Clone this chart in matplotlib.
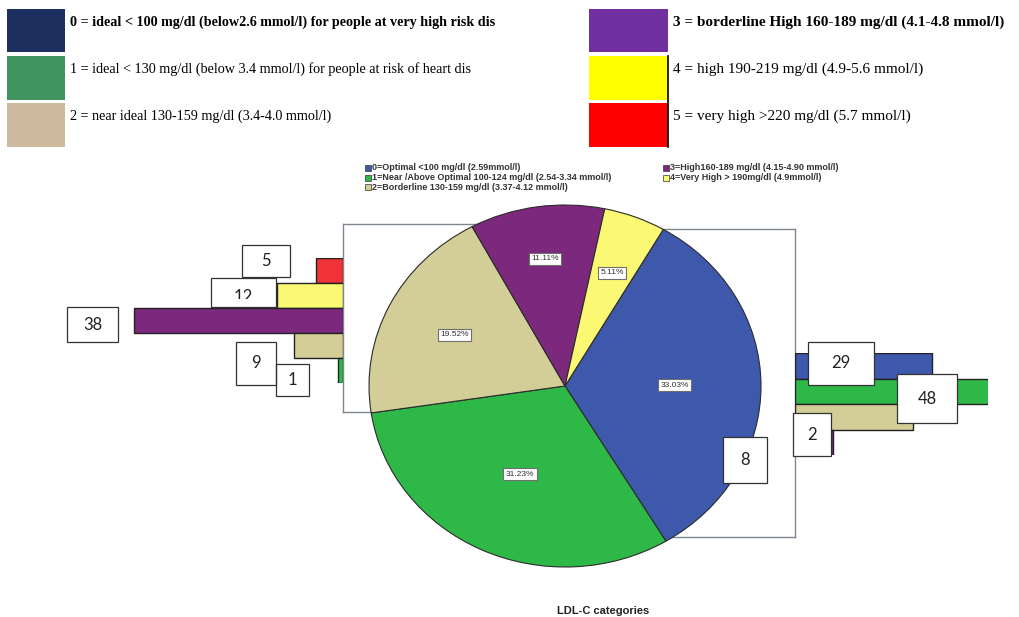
import numpy as np
import matplotlib
matplotlib.use("Agg")
import matplotlib.pyplot as plt
from matplotlib.patches import Rectangle

W, H = 1019, 617

# pie: share of each LDL-C category (%)
pie_labels = ["0=Optimal <100 mg/dl (2.59mmol/l)",
              "1=Near /Above Optimal 100-124 mg/dl (2.54-3.34 mmol/l)",
              "2=Borderline 130-159 mg/dl (3.37-4.12 mmol/l)",
              "3=High160-189 mg/dl (4.15-4.90 mmol/l)",
              "4=Very High > 190mg/dl (4.9mmol/l)"]
pie_pcts = [33.03, 31.23, 19.52, 11.11, 5.11]
pie_colors = ["#3E58AC", "#2EB848", "#D3CE97", "#7C287D", "#FBF873"]

# left bar group (counts)
left_vals = [5, 12, 38, 9, 1]
left_colors = ["#EF3338", "#FBF873", "#7C287D", "#D3CE97", "#2EB848"]

# right bar group (counts)
right_vals = [29, 48, 25, 8]
right_colors = ["#3E58AC", "#2EB848", "#D3CE97", "#7C287D"]

# callout boxes: text and pixel box (x0, y0, x1, y1)
callouts = [("5", 242, 245, 290, 277), ("12", 211, 278, 276, 307),
            ("38", 67, 307, 118, 342), ("9", 236, 342, 276, 385),
            ("1", 276, 364, 309, 396), ("29", 808, 342, 874, 385),
            ("48", 897, 374, 957, 423), ("2", 793, 413, 831, 456),
            ("8", 723, 437, 767, 483)]

# top key
key_colors = ["#1C2F5E", "#3F945F", "#CDBA9E", "#7030A0", "#FFFF00", "#FF0000"]
key_text = ["0 = ideal < 100 mg/dl (below2.6 mmol/l) for people at very high risk dis",
            "1 = ideal < 130 mg/dl (below 3.4 mmol/l) for people at risk of heart dis",
            "2 = near ideal 130-159 mg/dl (3.4-4.0 mmol/l)",
            "3 = borderline High 160-189 mg/dl (4.1-4.8 mmol/l)",
            "4 = high 190-219 mg/dl (4.9-5.6 mmol/l)",
            "5 = very high >220 mg/dl (5.7 mmol/l)"]
key_bold = [True, False, False, True, False, False]


def px_rect(x0, y0, x1, y1):
    return [x0 / W, 1 - y1 / H, (x1 - x0) / W, (y1 - y0) / H]


fig = plt.figure(figsize=(W / 100, H / 100), dpi=100)
fig.patch.set_facecolor("white")

# plain frames sitting behind the pie
for box in [(343, 224, 600, 412), (520, 229, 795, 537)]:
    fr = fig.add_axes(px_rect(*box))
    fr.set_xticks([])
    fr.set_yticks([])
    for s in fr.spines.values():
        s.set_color("#7E8790")
        s.set_linewidth(1.0)

# left bars grow leftwards from x=343
ax_l = fig.add_axes(px_rect(100, 258, 343, 383))
ax_l.barh(range(len(left_vals)), left_vals, height=1.0, color=left_colors,
          edgecolor="#222222", linewidth=1.0)
ax_l.set_xlim(243 / 5.5, 0)
ax_l.set_ylim(len(left_vals) - 0.5, -0.5)
ax_l.axis("off")

# right bars grow rightwards from x=795
ax_r = fig.add_axes(px_rect(795, 353, 988, 455))
ax_r.barh(range(len(right_vals)), right_vals, height=1.0, color=right_colors,
          edgecolor="#222222", linewidth=1.0)
ax_r.set_xlim(0, 193 / 4.72)
ax_r.set_ylim(len(right_vals) - 0.5, -0.5)
ax_r.axis("off")

# pie (slightly squashed, so aspect is left free)
ax_p = fig.add_axes(px_rect(369, 205, 761, 567))
wedges, _, autotexts = ax_p.pie(
    pie_pcts, colors=pie_colors, startangle=59.9, counterclock=False,
    autopct="%.2f%%", pctdistance=0.6,
    wedgeprops=dict(edgecolor="#2B2B2B", linewidth=0.8),
    textprops=dict(fontsize=6, color="#333333", family="Liberation Sans"))
pct_r = [0.56, 0.54, 0.63, 0.71, 0.67]
for w, t, r in zip(wedges, autotexts, pct_r):
    a = np.deg2rad((w.theta1 + w.theta2) / 2)
    t.set_position((r * np.cos(a), r * np.sin(a)))
    t.set_bbox(dict(boxstyle="square,pad=0.3", fc="white", ec="#6E6E6E", lw=0.8))
ax_p.set_aspect("auto")
ax_p.set_xlim(-1, 1)
ax_p.set_ylim(-1, 1)
ax_p.axis("off")

fig.text(603 / W, 1 - 611 / H, "LDL-C categories", ha="center", va="center",
         fontsize=8, fontweight="bold", family="Liberation Sans", color="#222222")

# overlay in pixel units for the keys and callouts
ov = fig.add_axes([0, 0, 1, 1])
ov.set_xlim(0, W)
ov.set_ylim(H, 0)
ov.axis("off")
ov.patch.set_alpha(0)

# small pie key, two columns
for i, (c, lab) in enumerate(zip(pie_colors, pie_labels)):
    col, row = (0, i) if i < 3 else (1, i - 3)
    x = 365 if col == 0 else 663
    y = 168 + row * 9.5
    ov.add_patch(Rectangle((x, y - 3), 6, 6, fc=c, ec="#333333", lw=0.5))
    ov.text(x + 7.5, y, lab, ha="left", va="center", fontsize=6.5,
            fontweight="bold", family="Liberation Sans", color="#333333")

rows = [(9, 52), (56, 100), (103, 147)]
for i, (c, txt, b) in enumerate(zip(key_colors, key_text, key_bold)):
    col, row = divmod(i, 3)
    x0, x1 = (7, 65) if col == 0 else (589, 668)
    y0, y1 = rows[row]
    ov.add_patch(Rectangle((x0, y0), x1 - x0, y1 - y0, fc=c, ec="none"))
    ov.text(x1 + 5, y0 + 13, txt, ha="left", va="center",
            fontsize=10.2 if col == 0 else 11.0,
            family="Liberation Serif", fontweight="bold" if b else "normal",
            color="black")
ov.plot([668, 668], [56, 147], color="black", lw=1.2)

for txt, x0, y0, x1, y1 in callouts:
    ov.add_patch(Rectangle((x0, y0), x1 - x0, y1 - y0, fc="white", ec="none",
                           zorder=2))
    ty = (y0 + y1) / 2
    if txt == "12":
        ty = 297  # only the upper part of this label shows
    ov.text((x0 + x1) / 2, ty, txt, ha="center", va="center", fontsize=12,
            family="Lato", color="#222222", zorder=3)
    if txt == "12":
        ov.add_patch(Rectangle((x0, 299), x1 - x0, y1 - 299, fc="white",
                               ec="none", zorder=4))
    ov.add_patch(Rectangle((x0, y0), x1 - x0, y1 - y0, fc="none",
                           ec="#333333", lw=0.9, zorder=5))

fig.savefig("out.png", dpi=100)
